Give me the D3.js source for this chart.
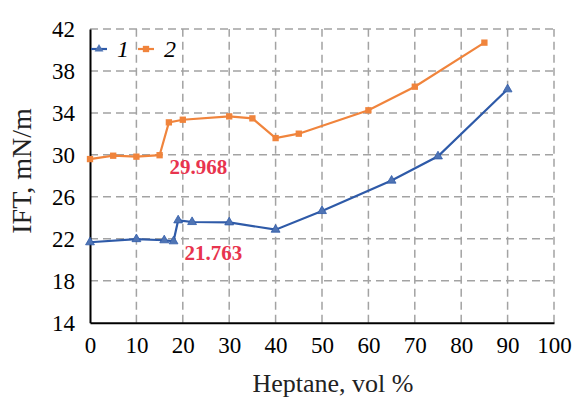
<!DOCTYPE html>
<html lang="en">
<head>
<meta charset="utf-8">
<script src="https://d3js.org/d3.v7.min.js"></script>
<style>
  body { margin: 0; background: #fff; }
  svg text { font-family: "Liberation Serif", "Times New Roman", Times, serif !important; }
</style>
</head>
<body>
<script>
// series 1 (blue, triangles)
var x1 = [0, 10, 16, 18, 19, 22, 30, 40, 50, 65, 75, 90];
var y1 = [21.67, 21.97, 21.86, 21.763, 23.76, 23.6, 23.57, 22.87, 24.65, 27.55, 29.86, 36.25];
// series 2 (orange, squares)
var x2 = [0, 5, 10, 15, 17, 20, 30, 35, 40, 45, 60, 70, 85];
var y2 = [29.6, 29.92, 29.83, 29.968, 33.1, 33.35, 33.67, 33.48, 31.6, 32.02, 34.25, 36.5, 40.7];
var xTicks = [0, 10, 20, 30, 40, 50, 60, 70, 80, 90, 100];
var yTicks = [14, 18, 22, 26, 30, 34, 38, 42];
var seriesNames = ["1", "2"];
// annotated values
var notes = [{x: 18, y: 21.763, text: "21.763"}, {x: 15, y: 29.968, text: "29.968"}];

var W = 581, H = 397;
var blue = "#2e5aa8", orange = "#f0843c", red = "#e8344e";
var serif = "'Liberation Serif', 'Times New Roman', serif";

var svg = d3.select("body").append("svg")
    .attr("width", W)
    .attr("height", H)
    .attr("font-family", serif);

var x = d3.scaleLinear().domain([0, 100]).range([90, 554]);
var y = d3.scaleLinear().domain([14, 42]).range([322.7, 29]);

// grid
svg.append("g").selectAll("line")
    .data(xTicks.slice(1))
    .enter().append("line")
    .attr("x1", function(d) { return x(d); })
    .attr("x2", function(d) { return x(d); })
    .attr("y1", y(14))
    .attr("y2", y(42))
    .attr("stroke", "#a3a3a3")
    .attr("stroke-width", 1.5)
    .attr("stroke-dasharray", "8,5");

svg.append("g").selectAll("line")
    .data(yTicks.slice(1))
    .enter().append("line")
    .attr("x1", x(0))
    .attr("x2", x(100))
    .attr("y1", function(d) { return y(d); })
    .attr("y2", function(d) { return y(d); })
    .attr("stroke", "#a3a3a3")
    .attr("stroke-width", 1.5)
    .attr("stroke-dasharray", "8,5");

// axes
var xAxis = svg.append("g")
    .attr("transform", "translate(0," + y(14) + ")")
    .call(d3.axisBottom(x).tickValues(xTicks).tickSize(0).tickPadding(14));
var yAxis = svg.append("g")
    .attr("transform", "translate(" + x(0) + ",0)")
    .call(d3.axisLeft(y).tickValues(yTicks).tickSize(0).tickPadding(15));

[xAxis, yAxis].forEach(function(a) {
    a.attr("font-family", serif).attr("font-size", 23);
    a.select(".domain").attr("stroke", "#000").attr("stroke-width", 2);
    a.selectAll("text")
        .style("font-family", serif)
        .attr("fill", "#000");
});
yAxis.selectAll("text").attr("dy", "0.34em");

// lines
var line = d3.line()
    .x(function(d) { return x(d[0]); })
    .y(function(d) { return y(d[1]); });

var s1 = d3.zip(x1, y1), s2 = d3.zip(x2, y2);

svg.append("path")
    .datum(s2)
    .attr("d", line)
    .attr("fill", "none")
    .attr("stroke", orange)
    .attr("stroke-width", 2.2);

svg.append("path")
    .datum(s1)
    .attr("d", line)
    .attr("fill", "none")
    .attr("stroke", blue)
    .attr("stroke-width", 2.2);

var tri = d3.symbol().type(d3.symbolTriangle).size(34);
var sq = d3.symbol().type(d3.symbolSquare).size(40);

svg.append("g").selectAll("path")
    .data(s2)
    .enter().append("path")
    .attr("d", sq)
    .attr("transform", function(d) { return "translate(" + x(d[0]) + "," + y(d[1]) + ")"; })
    .attr("fill", orange);

svg.append("g").selectAll("path")
    .data(s1)
    .enter().append("path")
    .attr("d", tri)
    .attr("transform", function(d) { return "translate(" + x(d[0]) + "," + y(d[1]) + ")"; })
    .attr("fill", "#4f74b4")
    .attr("stroke", blue)
    .attr("stroke-width", 0.8);

// annotations
svg.append("g").selectAll("text")
    .data(notes)
    .enter().append("text")
    .attr("x", function(d) { return x(d.x) + (d.x === 18 ? 11 : 10); })
    .attr("y", function(d) { return y(d.y) + 19; })
    .attr("font-size", 21)
    .attr("font-weight", "bold")
    .attr("fill", red)
    .text(function(d) { return d.text; });

// legend
var legend = svg.append("g");
var lg = [
    {name: seriesNames[0], color: blue, sym: tri, x0: 91, fill: "#4f74b4"},
    {name: seriesNames[1], color: orange, sym: sq, x0: 138, fill: orange}
];
lg.forEach(function(d) {
    legend.append("line")
        .attr("x1", d.x0).attr("x2", d.x0 + 16)
        .attr("y1", 49).attr("y2", 49)
        .attr("stroke", d.color).attr("stroke-width", 2.2);
    legend.append("path")
        .attr("d", d.sym)
        .attr("transform", "translate(" + (d.x0 + 8) + ",49)")
        .attr("fill", d.fill);
    legend.append("text")
        .attr("x", d.x0 + 26)
        .attr("y", 57)
        .attr("font-size", 24)
        .attr("font-style", "italic")
        .attr("fill", "#000")
        .text(d.name);
});

// axis titles
svg.append("text")
    .attr("x", 333)
    .attr("y", 392)
    .attr("text-anchor", "middle")
    .attr("font-size", 26)
    .attr("fill", "#222")
    .text("Heptane, vol %");

svg.append("text")
    .attr("transform", "translate(31,171) rotate(-90)")
    .attr("text-anchor", "middle")
    .attr("font-size", 28)
    .attr("fill", "#222")
    .text("IFT, mN/m");
</script>
</body>
</html>
